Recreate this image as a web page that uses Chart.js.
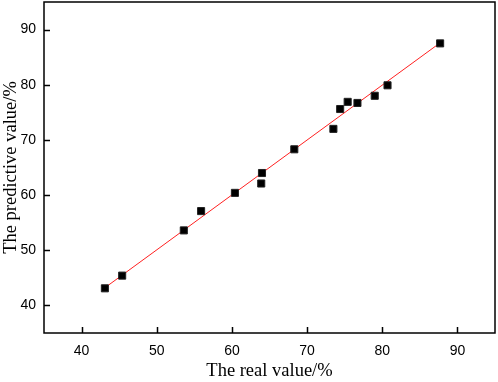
<!DOCTYPE html>
<html><head><meta charset="utf-8">
<script src="https://cdn.jsdelivr.net/npm/chart.js@4/dist/chart.umd.min.js"></script>
<style>html,body{margin:0;padding:0;background:#fff}#wrap{width:498px;height:382px}</style>
</head><body><div id="wrap"><canvas id="c" width="498" height="382"></canvas></div>
<script>
const realValues = [43.1, 45.4, 53.6, 55.9, 60.4, 63.9, 64.0, 68.3, 73.5, 74.4, 75.4, 76.7, 79.0, 80.7, 87.7];
const predictedValues = [43.1, 45.4, 53.6, 57.1, 60.4, 62.1, 64.0, 68.3, 72.0, 75.6, 76.9, 76.7, 78.0, 79.9, 87.5];
const fitX = [43.1, 87.7];
const fitY = [43.2, 87.6];
const xTicks = [40, 50, 60, 70, 80, 90];
const yTicks = [40, 50, 60, 70, 80, 90];
const axisMin = 35, axisMax = 95;

const noPad = s => { s.paddingTop = 0; s.paddingBottom = 0; s.paddingLeft = 0; s.paddingRight = 0; };

const inwardTicks = {
  id: 'inwardTicks',
  afterDatasetsDraw(chart) {
    const {ctx, chartArea: a, scales: {x, y}} = chart;
    ctx.save();
    ctx.strokeStyle = '#000';
    ctx.lineWidth = 1.5;
    ctx.beginPath();
    xTicks.forEach(v => { const px = Math.round(x.getPixelForValue(v)) + 0.5; ctx.moveTo(px, a.bottom); ctx.lineTo(px, a.bottom - 6); });
    yTicks.forEach(v => { const py = Math.round(y.getPixelForValue(v)) + 0.5; ctx.moveTo(a.left, py); ctx.lineTo(a.left + 6, py); });
    ctx.stroke();
    ctx.lineWidth = 1.5;
    ctx.strokeRect(a.left, a.top, a.right - a.left, a.bottom - a.top);
    ctx.restore();
  }
};

new Chart(document.getElementById('c'), {
  type: 'scatter',
  data: {
    datasets: [
      {
        type: 'line',
        data: fitX.map((v, i) => ({x: v, y: fitY[i]})),
        borderColor: '#ff2020',
        borderWidth: 1,
        pointRadius: 0,
        fill: false,
        order: 2
      },
      {
        data: realValues.map((v, i) => ({x: v, y: predictedValues[i]})),
        pointStyle: 'rect',
        pointRadius: 5,
        backgroundColor: '#000',
        borderColor: '#222',
        borderWidth: 1,
        order: 1
      }
    ]
  },
  options: {
    responsive: false,
    animation: false,
    devicePixelRatio: 1,
    layout: {autoPadding: false, padding: {top: 2, right: 3, left: 0, bottom: 0}},
    plugins: {legend: {display: false}, tooltip: {enabled: false}},
    scales: {
      x: {
        type: 'linear', min: axisMin, max: axisMax,
        afterBuildTicks: s => { s.ticks = xTicks.map(v => ({value: v})); },
        afterFit: s => { s.height = 49; noPad(s); },
        grid: {display: false, drawTicks: false},
        border: {display: false},
        ticks: {color: '#000', padding: 10, font: {family: 'Liberation Sans', size: 14}},
        title: {display: true, text: 'The real value/%', color: '#000', padding: {top: 3, bottom: 0}, font: {family: 'Liberation Serif', size: 18.5}}
      },
      y: {
        type: 'linear', min: axisMin, max: axisMax,
        afterBuildTicks: s => { s.ticks = yTicks.map(v => ({value: v})); },
        afterFit: s => { s.width = 44; noPad(s); },
        grid: {display: false, drawTicks: false},
        border: {display: false},
        ticks: {color: '#000', padding: 8, font: {family: 'Liberation Sans', size: 14}},
        title: {display: true, text: 'The predictive value/%', color: '#000', padding: {top: 0, bottom: 1}, font: {family: 'Liberation Serif', size: 18.5}}
      }
    }
  },
  plugins: [inwardTicks]
});
</script></body></html>
